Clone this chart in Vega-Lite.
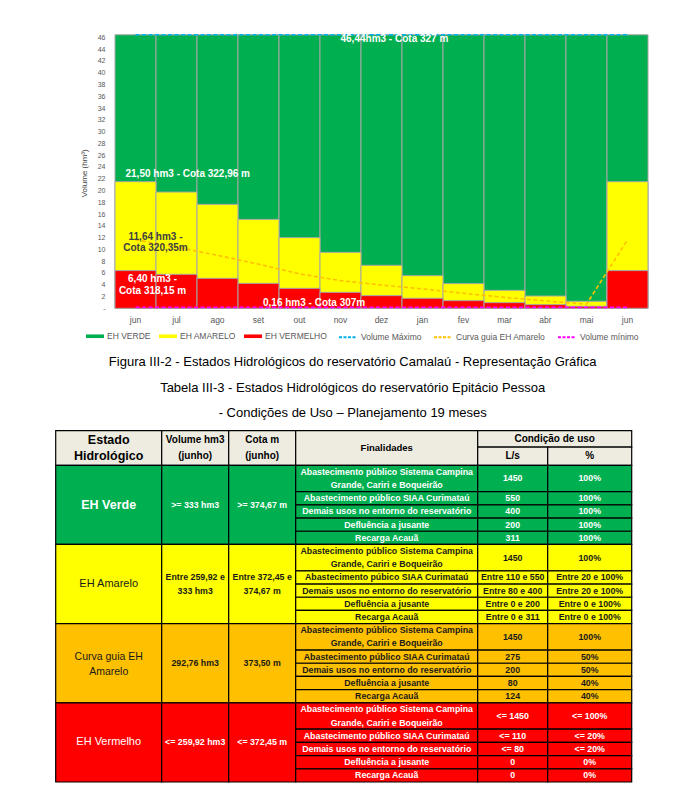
{
  "$schema": "https://vega.github.io/schema/vega-lite/v6.json",
  "width": 676,
  "height": 801,
  "autosize": {"type": "none"},
  "padding": 0,
  "background": "#ffffff",
  "config": {"view": {"stroke": null}, "font": "Liberation Sans"},
  "title": {
    "text": ["Figura III-2 - Estados Hidrológicos do reservatório Camalaú - Representação Gráfica", "Tabela III-3 - Estados Hidrológicos do reservatório Epitácio Pessoa", "- Condições de Uso – Planejamento 19 meses"],
    "orient": "bottom", "anchor": "middle", "frame": "group", "offset": -445, "dx": 14.7,
    "fontSize": 13, "fontWeight": "normal", "font": "Liberation Sans", "color": "#000000", "lineHeight": 25.7
  },
  "datasets": {
    "barras": [
      {"mes": "jun", "estado": "EH VERDE", "vol": 46.44},
      {"mes": "jul", "estado": "EH VERDE", "vol": 46.44},
      {"mes": "ago", "estado": "EH VERDE", "vol": 46.44},
      {"mes": "set", "estado": "EH VERDE", "vol": 46.44},
      {"mes": "out", "estado": "EH VERDE", "vol": 46.44},
      {"mes": "nov", "estado": "EH VERDE", "vol": 46.44},
      {"mes": "dez", "estado": "EH VERDE", "vol": 46.44},
      {"mes": "jan", "estado": "EH VERDE", "vol": 46.44},
      {"mes": "fev", "estado": "EH VERDE", "vol": 46.44},
      {"mes": "mar", "estado": "EH VERDE", "vol": 46.44},
      {"mes": "abr", "estado": "EH VERDE", "vol": 46.44},
      {"mes": "mai", "estado": "EH VERDE", "vol": 46.44},
      {"mes": "jun ", "estado": "EH VERDE", "vol": 46.44},
      {"mes": "jun", "estado": "EH AMARELO", "vol": 21.5},
      {"mes": "jul", "estado": "EH AMARELO", "vol": 19.74},
      {"mes": "ago", "estado": "EH AMARELO", "vol": 17.65},
      {"mes": "set", "estado": "EH AMARELO", "vol": 15.1},
      {"mes": "out", "estado": "EH AMARELO", "vol": 12.0},
      {"mes": "nov", "estado": "EH AMARELO", "vol": 9.5},
      {"mes": "dez", "estado": "EH AMARELO", "vol": 7.3},
      {"mes": "jan", "estado": "EH AMARELO", "vol": 5.54},
      {"mes": "fev", "estado": "EH AMARELO", "vol": 4.19},
      {"mes": "mar", "estado": "EH AMARELO", "vol": 3.05},
      {"mes": "abr", "estado": "EH AMARELO", "vol": 2.09},
      {"mes": "mai", "estado": "EH AMARELO", "vol": 1.19},
      {"mes": "jun ", "estado": "EH AMARELO", "vol": 21.5},
      {"mes": "jun", "estado": "EH VERMELHO", "vol": 6.4},
      {"mes": "jul", "estado": "EH VERMELHO", "vol": 5.77},
      {"mes": "ago", "estado": "EH VERMELHO", "vol": 5.09},
      {"mes": "set", "estado": "EH VERMELHO", "vol": 4.24},
      {"mes": "out", "estado": "EH VERMELHO", "vol": 3.39},
      {"mes": "nov", "estado": "EH VERMELHO", "vol": 2.71},
      {"mes": "dez", "estado": "EH VERMELHO", "vol": 2.15},
      {"mes": "jan", "estado": "EH VERMELHO", "vol": 1.7},
      {"mes": "fev", "estado": "EH VERMELHO", "vol": 1.3},
      {"mes": "mar", "estado": "EH VERMELHO", "vol": 0.96},
      {"mes": "abr", "estado": "EH VERMELHO", "vol": 0.62},
      {"mes": "mai", "estado": "EH VERMELHO", "vol": 0.34},
      {"mes": "jun ", "estado": "EH VERMELHO", "vol": 6.4}
    ],
    "linhas": [
      {"i": 0, "mes": "jun", "serie": "Volume Máximo", "vol": 46.44},
      {"i": 1, "mes": "jul", "serie": "Volume Máximo", "vol": 46.44},
      {"i": 2, "mes": "ago", "serie": "Volume Máximo", "vol": 46.44},
      {"i": 3, "mes": "set", "serie": "Volume Máximo", "vol": 46.44},
      {"i": 4, "mes": "out", "serie": "Volume Máximo", "vol": 46.44},
      {"i": 5, "mes": "nov", "serie": "Volume Máximo", "vol": 46.44},
      {"i": 6, "mes": "dez", "serie": "Volume Máximo", "vol": 46.44},
      {"i": 7, "mes": "jan", "serie": "Volume Máximo", "vol": 46.44},
      {"i": 8, "mes": "fev", "serie": "Volume Máximo", "vol": 46.44},
      {"i": 9, "mes": "mar", "serie": "Volume Máximo", "vol": 46.44},
      {"i": 10, "mes": "abr", "serie": "Volume Máximo", "vol": 46.44},
      {"i": 11, "mes": "mai", "serie": "Volume Máximo", "vol": 46.44},
      {"i": 12, "mes": "jun ", "serie": "Volume Máximo", "vol": 46.44},
      {"i": 0, "mes": "jun", "serie": "Curva guia EH Amarelo", "vol": 11.64},
      {"i": 1, "mes": "jul", "serie": "Curva guia EH Amarelo", "vol": 10.4},
      {"i": 2, "mes": "ago", "serie": "Curva guia EH Amarelo", "vol": 9.0},
      {"i": 3, "mes": "set", "serie": "Curva guia EH Amarelo", "vol": 7.5},
      {"i": 4, "mes": "out", "serie": "Curva guia EH Amarelo", "vol": 5.85},
      {"i": 5, "mes": "nov", "serie": "Curva guia EH Amarelo", "vol": 4.7},
      {"i": 6, "mes": "dez", "serie": "Curva guia EH Amarelo", "vol": 3.95},
      {"i": 7, "mes": "jan", "serie": "Curva guia EH Amarelo", "vol": 3.3},
      {"i": 8, "mes": "fev", "serie": "Curva guia EH Amarelo", "vol": 2.55},
      {"i": 9, "mes": "mar", "serie": "Curva guia EH Amarelo", "vol": 1.85},
      {"i": 10, "mes": "abr", "serie": "Curva guia EH Amarelo", "vol": 1.25},
      {"i": 11, "mes": "mai", "serie": "Curva guia EH Amarelo", "vol": 0.7},
      {"i": 12, "mes": "jun ", "serie": "Curva guia EH Amarelo", "vol": 11.64},
      {"i": 0, "mes": "jun", "serie": "Volume mínimo", "vol": 0.16},
      {"i": 1, "mes": "jul", "serie": "Volume mínimo", "vol": 0.16},
      {"i": 2, "mes": "ago", "serie": "Volume mínimo", "vol": 0.16},
      {"i": 3, "mes": "set", "serie": "Volume mínimo", "vol": 0.16},
      {"i": 4, "mes": "out", "serie": "Volume mínimo", "vol": 0.16},
      {"i": 5, "mes": "nov", "serie": "Volume mínimo", "vol": 0.16},
      {"i": 6, "mes": "dez", "serie": "Volume mínimo", "vol": 0.16},
      {"i": 7, "mes": "jan", "serie": "Volume mínimo", "vol": 0.16},
      {"i": 8, "mes": "fev", "serie": "Volume mínimo", "vol": 0.16},
      {"i": 9, "mes": "mar", "serie": "Volume mínimo", "vol": 0.16},
      {"i": 10, "mes": "abr", "serie": "Volume mínimo", "vol": 0.16},
      {"i": 11, "mes": "mai", "serie": "Volume mínimo", "vol": 0.16},
      {"i": 12, "mes": "jun ", "serie": "Volume mínimo", "vol": 0.16}
    ],
    "rotulos": [
      {"id": 1, "mes": "nov", "vol": 46.44, "txt": "46,44hm3 - Cota  327 m"},
      {"id": 2, "mes": "jun", "vol": 21.5, "txt": "21,50 hm3 - Cota 322,96 m"},
      {"id": 3, "mes": "jun", "vol": 11.64, "txt": "11,64 hm3 -\nCota 320,35m"},
      {"id": 4, "mes": "jun", "vol": 6.4, "txt": "6,40 hm3 -\nCota 318,15 m"},
      {"id": 5, "mes": "set", "vol": 0.16, "txt": "0,16 hm3 - Cota 307m"}
    ],
    "celulas": [
      {"e": "Cab", "k": "estado", "c0": 0, "c1": 106, "r0": 0, "r1": 2.62, "t": "Estado\nHidrológico"},
      {"e": "Cab", "k": "vol", "c0": 106, "c1": 173, "r0": 0, "r1": 2.62, "t": "Volume hm3\n(junho)"},
      {"e": "Cab", "k": "cota", "c0": 173, "c1": 240, "r0": 0, "r1": 2.62, "t": "Cota m\n(junho)"},
      {"e": "Cab", "k": "fin", "c0": 240, "c1": 422, "r0": 0, "r1": 2.62, "t": "Finalidades"},
      {"e": "Cab", "k": "cond", "c0": 422, "c1": 576, "r0": 0, "r1": 1.24, "t": "Condição de uso"},
      {"e": "Cab", "k": "ls", "c0": 422, "c1": 492, "r0": 1.24, "r1": 2.62, "t": "L/s"},
      {"e": "Cab", "k": "pct", "c0": 492, "c1": 576, "r0": 1.24, "r1": 2.62, "t": "%"},

      {"e": "Verde", "k": "estado", "c0": 0, "c1": 106, "r0": 2.62, "r1": 8.62, "t": "EH Verde"},
      {"e": "Verde", "k": "vol", "c0": 106, "c1": 173, "r0": 2.62, "r1": 8.62, "t": ">= 333 hm3"},
      {"e": "Verde", "k": "cota", "c0": 173, "c1": 240, "r0": 2.62, "r1": 8.62, "t": ">= 374,67  m"},
      {"e": "Verde", "k": "fin", "c0": 240, "c1": 422, "r0": 2.62, "r1": 4.62, "t": "Abastecimento público Sistema Campina\nGrande, Cariri e Boqueirão"},
      {"e": "Verde", "k": "fin", "c0": 240, "c1": 422, "r0": 4.62, "r1": 5.62, "t": "Abastecimento público SIAA Curimataú"},
      {"e": "Verde", "k": "fin", "c0": 240, "c1": 422, "r0": 5.62, "r1": 6.62, "t": "Demais usos no entorno do reservatório"},
      {"e": "Verde", "k": "fin", "c0": 240, "c1": 422, "r0": 6.62, "r1": 7.62, "t": "Defluência a jusante"},
      {"e": "Verde", "k": "fin", "c0": 240, "c1": 422, "r0": 7.62, "r1": 8.62, "t": "Recarga Acauã"},
      {"e": "Verde", "k": "ls", "c0": 422, "c1": 492, "r0": 2.62, "r1": 4.62, "t": "1450"},
      {"e": "Verde", "k": "ls", "c0": 422, "c1": 492, "r0": 4.62, "r1": 5.62, "t": "550"},
      {"e": "Verde", "k": "ls", "c0": 422, "c1": 492, "r0": 5.62, "r1": 6.62, "t": "400"},
      {"e": "Verde", "k": "ls", "c0": 422, "c1": 492, "r0": 6.62, "r1": 7.62, "t": "200"},
      {"e": "Verde", "k": "ls", "c0": 422, "c1": 492, "r0": 7.62, "r1": 8.62, "t": "311"},
      {"e": "Verde", "k": "pct", "c0": 492, "c1": 576, "r0": 2.62, "r1": 4.62, "t": "100%"},
      {"e": "Verde", "k": "pct", "c0": 492, "c1": 576, "r0": 4.62, "r1": 5.62, "t": "100%"},
      {"e": "Verde", "k": "pct", "c0": 492, "c1": 576, "r0": 5.62, "r1": 6.62, "t": "100%"},
      {"e": "Verde", "k": "pct", "c0": 492, "c1": 576, "r0": 6.62, "r1": 7.62, "t": "100%"},
      {"e": "Verde", "k": "pct", "c0": 492, "c1": 576, "r0": 7.62, "r1": 8.62, "t": "100%"},

      {"e": "Amarelo", "k": "estado", "c0": 0, "c1": 106, "r0": 8.62, "r1": 14.62, "t": "EH Amarelo"},
      {"e": "Amarelo", "k": "vol", "c0": 106, "c1": 173, "r0": 8.62, "r1": 14.62, "t": "Entre 259,92 e\n333 hm3"},
      {"e": "Amarelo", "k": "cota", "c0": 173, "c1": 240, "r0": 8.62, "r1": 14.62, "t": "Entre 372,45 e\n374,67 m"},
      {"e": "Amarelo", "k": "fin", "c0": 240, "c1": 422, "r0": 8.62, "r1": 10.62, "t": "Abastecimento público Sistema Campina\nGrande, Cariri e Boqueirão"},
      {"e": "Amarelo", "k": "fin", "c0": 240, "c1": 422, "r0": 10.62, "r1": 11.62, "t": "Abastecimento púbico SIAA Curimataú"},
      {"e": "Amarelo", "k": "fin", "c0": 240, "c1": 422, "r0": 11.62, "r1": 12.62, "t": "Demais usos no entorno do reservatório"},
      {"e": "Amarelo", "k": "fin", "c0": 240, "c1": 422, "r0": 12.62, "r1": 13.62, "t": "Defluência a jusante"},
      {"e": "Amarelo", "k": "fin", "c0": 240, "c1": 422, "r0": 13.62, "r1": 14.62, "t": "Recarga Acauã"},
      {"e": "Amarelo", "k": "ls", "c0": 422, "c1": 492, "r0": 8.62, "r1": 10.62, "t": "1450"},
      {"e": "Amarelo", "k": "ls", "c0": 422, "c1": 492, "r0": 10.62, "r1": 11.62, "t": "Entre 110 e 550"},
      {"e": "Amarelo", "k": "ls", "c0": 422, "c1": 492, "r0": 11.62, "r1": 12.62, "t": "Entre 80 e 400"},
      {"e": "Amarelo", "k": "ls", "c0": 422, "c1": 492, "r0": 12.62, "r1": 13.62, "t": "Entre 0 e 200"},
      {"e": "Amarelo", "k": "ls", "c0": 422, "c1": 492, "r0": 13.62, "r1": 14.62, "t": "Entre 0 e 311"},
      {"e": "Amarelo", "k": "pct", "c0": 492, "c1": 576, "r0": 8.62, "r1": 10.62, "t": "100%"},
      {"e": "Amarelo", "k": "pct", "c0": 492, "c1": 576, "r0": 10.62, "r1": 11.62, "t": "Entre 20 e 100%"},
      {"e": "Amarelo", "k": "pct", "c0": 492, "c1": 576, "r0": 11.62, "r1": 12.62, "t": "Entre 20 e 100%"},
      {"e": "Amarelo", "k": "pct", "c0": 492, "c1": 576, "r0": 12.62, "r1": 13.62, "t": "Entre 0 e  100%"},
      {"e": "Amarelo", "k": "pct", "c0": 492, "c1": 576, "r0": 13.62, "r1": 14.62, "t": "Entre 0 e  100%"},

      {"e": "Curva", "k": "estado", "c0": 0, "c1": 106, "r0": 14.62, "r1": 20.62, "t": "Curva guia EH\nAmarelo"},
      {"e": "Curva", "k": "vol", "c0": 106, "c1": 173, "r0": 14.62, "r1": 20.62, "t": "292,76 hm3"},
      {"e": "Curva", "k": "cota", "c0": 173, "c1": 240, "r0": 14.62, "r1": 20.62, "t": "373,50 m"},
      {"e": "Curva", "k": "fin", "c0": 240, "c1": 422, "r0": 14.62, "r1": 16.62, "t": "Abastecimento público Sistema Campina\nGrande, Cariri e Boqueirão"},
      {"e": "Curva", "k": "fin", "c0": 240, "c1": 422, "r0": 16.62, "r1": 17.62, "t": "Abastecimento público SIAA Curimataú"},
      {"e": "Curva", "k": "fin", "c0": 240, "c1": 422, "r0": 17.62, "r1": 18.62, "t": "Demais usos no entorno do reservatório"},
      {"e": "Curva", "k": "fin", "c0": 240, "c1": 422, "r0": 18.62, "r1": 19.62, "t": "Defluência a jusante"},
      {"e": "Curva", "k": "fin", "c0": 240, "c1": 422, "r0": 19.62, "r1": 20.62, "t": "Recarga Acauã"},
      {"e": "Curva", "k": "ls", "c0": 422, "c1": 492, "r0": 14.62, "r1": 16.62, "t": "1450"},
      {"e": "Curva", "k": "ls", "c0": 422, "c1": 492, "r0": 16.62, "r1": 17.62, "t": "275"},
      {"e": "Curva", "k": "ls", "c0": 422, "c1": 492, "r0": 17.62, "r1": 18.62, "t": "200"},
      {"e": "Curva", "k": "ls", "c0": 422, "c1": 492, "r0": 18.62, "r1": 19.62, "t": "80"},
      {"e": "Curva", "k": "ls", "c0": 422, "c1": 492, "r0": 19.62, "r1": 20.62, "t": "124"},
      {"e": "Curva", "k": "pct", "c0": 492, "c1": 576, "r0": 14.62, "r1": 16.62, "t": "100%"},
      {"e": "Curva", "k": "pct", "c0": 492, "c1": 576, "r0": 16.62, "r1": 17.62, "t": "50%"},
      {"e": "Curva", "k": "pct", "c0": 492, "c1": 576, "r0": 17.62, "r1": 18.62, "t": "50%"},
      {"e": "Curva", "k": "pct", "c0": 492, "c1": 576, "r0": 18.62, "r1": 19.62, "t": "40%"},
      {"e": "Curva", "k": "pct", "c0": 492, "c1": 576, "r0": 19.62, "r1": 20.62, "t": "40%"},

      {"e": "Vermelho", "k": "estado", "c0": 0, "c1": 106, "r0": 20.62, "r1": 26.62, "t": "EH Vermelho"},
      {"e": "Vermelho", "k": "vol", "c0": 106, "c1": 173, "r0": 20.62, "r1": 26.62, "t": "<= 259,92 hm3"},
      {"e": "Vermelho", "k": "cota", "c0": 173, "c1": 240, "r0": 20.62, "r1": 26.62, "t": "<= 372,45 m"},
      {"e": "Vermelho", "k": "fin", "c0": 240, "c1": 422, "r0": 20.62, "r1": 22.62, "t": "Abastecimento público Sistema Campina\nGrande, Cariri e Boqueirão"},
      {"e": "Vermelho", "k": "fin", "c0": 240, "c1": 422, "r0": 22.62, "r1": 23.62, "t": "Abastecimento público SIAA Curimataú"},
      {"e": "Vermelho", "k": "fin", "c0": 240, "c1": 422, "r0": 23.62, "r1": 24.62, "t": "Demais usos no entorno do reservatório"},
      {"e": "Vermelho", "k": "fin", "c0": 240, "c1": 422, "r0": 24.62, "r1": 25.62, "t": "Defluência a jusante"},
      {"e": "Vermelho", "k": "fin", "c0": 240, "c1": 422, "r0": 25.62, "r1": 26.62, "t": "Recarga Acauã"},
      {"e": "Vermelho", "k": "ls", "c0": 422, "c1": 492, "r0": 20.62, "r1": 22.62, "t": "<= 1450"},
      {"e": "Vermelho", "k": "ls", "c0": 422, "c1": 492, "r0": 22.62, "r1": 23.62, "t": "<= 110"},
      {"e": "Vermelho", "k": "ls", "c0": 422, "c1": 492, "r0": 23.62, "r1": 24.62, "t": "<= 80"},
      {"e": "Vermelho", "k": "ls", "c0": 422, "c1": 492, "r0": 24.62, "r1": 25.62, "t": "0"},
      {"e": "Vermelho", "k": "ls", "c0": 422, "c1": 492, "r0": 25.62, "r1": 26.62, "t": "0"},
      {"e": "Vermelho", "k": "pct", "c0": 492, "c1": 576, "r0": 20.62, "r1": 22.62, "t": "<= 100%"},
      {"e": "Vermelho", "k": "pct", "c0": 492, "c1": 576, "r0": 22.62, "r1": 23.62, "t": "<= 20%"},
      {"e": "Vermelho", "k": "pct", "c0": 492, "c1": 576, "r0": 23.62, "r1": 24.62, "t": "<= 20%"},
      {"e": "Vermelho", "k": "pct", "c0": 492, "c1": 576, "r0": 24.62, "r1": 25.62, "t": "0%"},
      {"e": "Vermelho", "k": "pct", "c0": 492, "c1": 576, "r0": 25.62, "r1": 26.62, "t": "0%"}
    ]
  },
  "layer": [
    {
      "layer": [
        {
          "data": {"name": "barras"},
          "mark": {"type": "bar", "stroke": "#a6a6a6", "strokeWidth": 1},
          "encoding": {
            "x": {
              "field": "mes", "type": "ordinal",
              "scale": {"domain": ["jun", "jul", "ago", "set", "out", "nov", "dez", "jan", "fev", "mar", "abr", "mai", "jun "], "range": [115, 648], "paddingInner": 0, "paddingOuter": 0},
              "axis": {"orient": "bottom", "offset": -493, "title": null, "domain": false, "ticks": false, "grid": false, "labelAngle": 0, "labelPadding": 7, "labelFontSize": 8.5, "labelColor": "#595959", "labelFont": "Liberation Sans"}
            },
            "y": {
              "field": "vol", "type": "quantitative", "stack": null,
              "scale": {"domain": [0, 46], "range": [308.3, 37.4], "nice": false, "zero": true},
              "axis": {"orient": "left", "offset": -115, "values": [0, 2, 4, 6, 8, 10, 12, 14, 16, 18, 20, 22, 24, 26, 28, 30, 32, 34, 36, 38, 40, 42, 44, 46], "tickCount": 40, "labelExpr": "datum.value == 0 ? '-' : datum.label", "labelOverlap": false, "title": "Volume (hm³)", "domain": false, "ticks": false, "grid": false, "labelFontSize": 7, "labelColor": "#595959", "labelPadding": 10, "labelFont": "Liberation Sans", "titleFontSize": 8, "titleColor": "#404040", "titleFontWeight": "normal", "titleFont": "Liberation Sans", "titlePadding": 9}
            },
            "color": {
              "field": "estado", "type": "nominal",
              "scale": {"domain": ["EH VERDE", "EH AMARELO", "EH VERMELHO"], "range": ["#00b050", "#ffff00", "#ff0000"]},
              "legend": {
                "orient": "none", "legendX": 86, "legendY": 327, "direction": "horizontal", "columns": 3, "title": null,
                "labelFont": "Liberation Sans", "labelFontSize": 8.5, "labelColor": "#595959", "symbolSize": 324, "symbolType": "M-1,-0.2H1V0.2H-1Z", "symbolStrokeWidth": 0, "labelOffset": 3, "columnPadding": 8, "padding": 0
              }
            }
          }
        },
        {
          "data": {"name": "linhas"},
          "mark": {"type": "line", "strokeDash": [4, 2.5], "strokeWidth": 1.6},
          "encoding": {
            "x": {"field": "mes", "type": "ordinal"},
            "y": {"field": "vol", "type": "quantitative"},
            "stroke": {
              "field": "serie", "type": "nominal",
              "scale": {"domain": ["Volume Máximo", "Curva guia EH Amarelo", "Volume mínimo"], "range": ["#00b0f0", "#ffc000", "#ff00ff"]},
              "legend": {
                "orient": "none", "legendX": 338, "legendY": 327, "direction": "horizontal", "columns": 3, "title": null,
                "labelFont": "Liberation Sans", "labelFontSize": 8.5, "labelColor": "#595959", "symbolSize": 324, "symbolType": "stroke", "symbolStrokeWidth": 2, "symbolDash": [3, 1.5], "labelOffset": 3, "columnPadding": 8, "padding": 0
              }
            },
            "order": {"field": "i", "type": "quantitative"}
          }
        },
        {
          "data": {"name": "rotulos"},
          "transform": [{"filter": "datum.id == 1"}],
          "mark": {"type": "text", "align": "left", "baseline": "middle", "dy": 4, "font": "Liberation Sans", "fontWeight": "bold", "fontSize": 10, "color": "#ffffff"},
          "encoding": {"x": {"field": "mes", "type": "ordinal"}, "y": {"field": "vol", "type": "quantitative"}, "text": {"field": "txt"}}
        },
        {
          "data": {"name": "rotulos"},
          "transform": [{"filter": "datum.id == 2"}],
          "mark": {"type": "text", "align": "left", "baseline": "middle", "dx": -10, "dy": -7.5, "font": "Liberation Sans", "fontWeight": "bold", "fontSize": 10, "color": "#ffffff"},
          "encoding": {"x": {"field": "mes", "type": "ordinal"}, "y": {"field": "vol", "type": "quantitative"}, "text": {"field": "txt"}}
        },
        {
          "data": {"name": "rotulos"},
          "transform": [{"filter": "datum.id == 3"}],
          "mark": {"type": "text", "align": "center", "baseline": "middle", "dx": 20, "dy": -3.2, "lineBreak": "\n", "lineHeight": 11, "font": "Liberation Sans", "fontWeight": "bold", "fontSize": 10, "color": "#404040"},
          "encoding": {"x": {"field": "mes", "type": "ordinal"}, "y": {"field": "vol", "type": "quantitative"}, "text": {"field": "txt"}}
        },
        {
          "data": {"name": "rotulos"},
          "transform": [{"filter": "datum.id == 4"}],
          "mark": {"type": "text", "align": "center", "baseline": "middle", "dx": 17, "dy": 8.7, "lineBreak": "\n", "lineHeight": 11.4, "font": "Liberation Sans", "fontWeight": "bold", "fontSize": 10, "color": "#ffffff"},
          "encoding": {"x": {"field": "mes", "type": "ordinal"}, "y": {"field": "vol", "type": "quantitative"}, "text": {"field": "txt"}}
        },
        {
          "data": {"name": "rotulos"},
          "transform": [{"filter": "datum.id == 5"}],
          "mark": {"type": "text", "align": "left", "baseline": "middle", "dx": 4.5, "dy": -4, "font": "Liberation Sans", "fontWeight": "bold", "fontSize": 10, "color": "#ffffff"},
          "encoding": {"x": {"field": "mes", "type": "ordinal"}, "y": {"field": "vol", "type": "quantitative"}, "text": {"field": "txt"}}
        }
      ]
    },
    {
      "data": {"name": "celulas"},
      "transform": [
        {"calculate": "(datum.c0 + datum.c1) / 2", "as": "xm"},
        {"calculate": "(datum.r0 + datum.r1) / 2", "as": "ym"},
        {"calculate": "indexof(datum.t, '\\n') >= 0", "as": "multi"}
      ],
      "layer": [
        {
          "mark": {"type": "rect", "stroke": "#000000", "strokeWidth": 1.2},
          "encoding": {
            "x": {"field": "c0", "type": "quantitative", "scale": {"domain": [0, 576], "range": [55.7, 631.7], "nice": false, "zero": false}, "axis": null},
            "x2": {"field": "c1"},
            "y": {"field": "r0", "type": "quantitative", "scale": {"domain": [0, 26.62], "range": [430.7, 782], "nice": false, "zero": false}, "axis": null},
            "y2": {"field": "r1"},
            "fill": {"field": "e", "type": "nominal", "scale": {"domain": ["Cab", "Verde", "Amarelo", "Curva", "Vermelho"], "range": ["#eeece1", "#00b050", "#ffff00", "#ffc000", "#ff0000"]}, "legend": null}
          }
        },
        {
          "transform": [{"filter": "datum.e == 'Cab' && !datum.multi"}],
          "mark": {"type": "text", "font": "Liberation Sans", "fontWeight": "bold", "color": "#000000"},
          "encoding": {
            "x": {"field": "xm", "type": "quantitative", "axis": null},
            "y": {"field": "ym", "type": "quantitative", "axis": null},
            "text": {"field": "t"},
            "size": {"condition": {"test": "datum.k == 'fin'", "value": 9.5}, "value": 10}
          }
        },
        {
          "transform": [{"filter": "datum.e == 'Cab' && datum.multi"}],
          "mark": {"type": "text", "font": "Liberation Sans", "fontWeight": "bold", "lineBreak": "\n", "lineHeight": 16.5, "dy": -8.2, "color": "#000000"},
          "encoding": {
            "x": {"field": "xm", "type": "quantitative", "axis": null},
            "y": {"field": "ym", "type": "quantitative", "axis": null},
            "text": {"field": "t"},
            "size": {"condition": {"test": "datum.k == 'estado'", "value": 12.5}, "value": 10}
          }
        },
        {
          "transform": [{"filter": "datum.e == 'Verde' && datum.k == 'estado'"}],
          "mark": {"type": "text", "font": "Liberation Sans", "fontWeight": "bold", "fontSize": 12.5, "color": "#ffffff"},
          "encoding": {
            "x": {"field": "xm", "type": "quantitative", "axis": null},
            "y": {"field": "ym", "type": "quantitative", "axis": null},
            "text": {"field": "t"}
          }
        },
        {
          "transform": [{"filter": "datum.e != 'Verde' && datum.e != 'Cab' && datum.k == 'estado' && !datum.multi"}],
          "mark": {"type": "text", "font": "Liberation Sans", "fontWeight": "normal", "fontSize": 11},
          "encoding": {
            "x": {"field": "xm", "type": "quantitative", "axis": null},
            "y": {"field": "ym", "type": "quantitative", "axis": null},
            "text": {"field": "t"},
            "color": {"condition": {"test": "datum.e == 'Vermelho'", "value": "#ffffff"}, "value": "#1a1a1a"}
          }
        },
        {
          "transform": [{"filter": "datum.e != 'Verde' && datum.e != 'Cab' && datum.k == 'estado' && datum.multi"}],
          "mark": {"type": "text", "font": "Liberation Sans", "fontWeight": "normal", "fontSize": 10.5, "lineBreak": "\n", "lineHeight": 14.7, "dy": -6},
          "encoding": {
            "x": {"field": "xm", "type": "quantitative", "axis": null},
            "y": {"field": "ym", "type": "quantitative", "axis": null},
            "text": {"field": "t"},
            "color": {"value": "#1a1a1a"}
          }
        },
        {
          "transform": [{"filter": "datum.e != 'Cab' && datum.k != 'estado' && !datum.multi"}],
          "mark": {"type": "text", "font": "Liberation Sans", "fontWeight": "bold", "fontSize": 8.8},
          "encoding": {
            "x": {"field": "xm", "type": "quantitative", "axis": null},
            "y": {"field": "ym", "type": "quantitative", "axis": null},
            "text": {"field": "t"},
            "color": {"condition": {"test": "datum.e == 'Verde' || datum.e == 'Vermelho'", "value": "#ffffff"}, "value": "#1a1a1a"}
          }
        },
        {
          "transform": [{"filter": "datum.e != 'Cab' && datum.k != 'estado' && datum.multi"}],
          "mark": {"type": "text", "font": "Liberation Sans", "fontWeight": "bold", "fontSize": 8.8, "lineBreak": "\n", "lineHeight": 13.2, "dy": -6.6},
          "encoding": {
            "x": {"field": "xm", "type": "quantitative", "axis": null},
            "y": {"field": "ym", "type": "quantitative", "axis": null},
            "text": {"field": "t"},
            "color": {"condition": {"test": "datum.e == 'Verde' || datum.e == 'Vermelho'", "value": "#ffffff"}, "value": "#1a1a1a"}
          }
        }
      ]
    }
  ],
  "resolve": {"scale": {"x": "independent", "y": "independent"}}
}
